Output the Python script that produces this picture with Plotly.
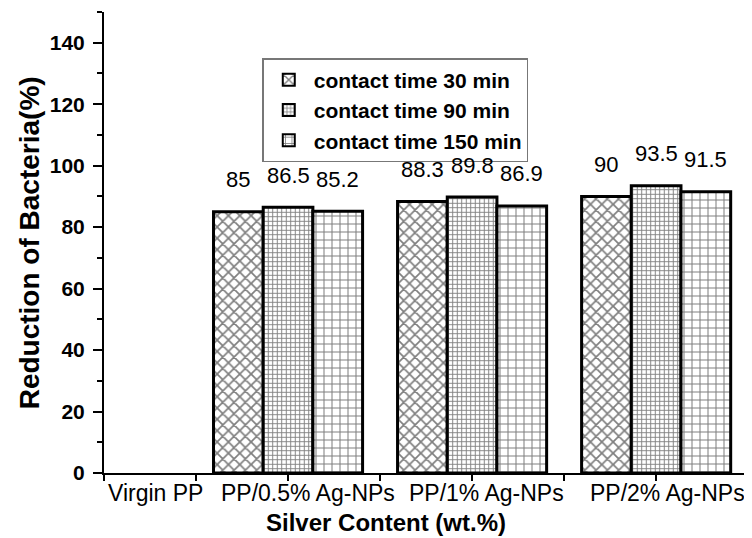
import plotly.graph_objects as go

categories = ["Virgin PP", "PP/0.5% Ag-NPs", "PP/1% Ag-NPs", "PP/2% Ag-NPs"]
series_names = ["contact time 30 min", "contact time 90 min", "contact time 150 min"]
t30 = [None, 85, 88.3, 90]
t90 = [None, 86.5, 89.8, 93.5]
t150 = [None, 85.2, 86.9, 91.5]
y_ticks = [0, 20, 40, 60, 80, 100, 120, 140]

series = [t30, t90, t150]
patterns = [
    dict(shape="x", size=8, solidity=0.38, fgcolor="black", bgcolor="white"),
    dict(shape="+", size=4.5, solidity=0.38, fgcolor="black", bgcolor="white"),
    dict(shape="+", size=8, solidity=0.24, fgcolor="black", bgcolor="white"),
]

FONT = "Liberation Sans, Arial, sans-serif"
bargap = 0.19
xpos = [i + 1 for i in range(len(categories))]
label_offset = [0.28, 0.11, 0.08, 0.06]  # label placement relative to category

fig = go.Figure()
for name, vals, pat in zip(series_names, series, patterns):
    fig.add_trace(go.Bar(
        x=xpos, y=vals, name=name,
        marker=dict(color="white", pattern=pat, line=dict(color="black", width=3)),
    ))

bw = (1 - bargap) / 3
annotations = []
for j, vals in enumerate(series):
    for i, v in enumerate(vals):
        if v is None:
            continue
        annotations.append(dict(
            x=xpos[i] + (j - 1) * bw, y=v, xref="x", yref="y",
            text=f"{v:g}", showarrow=False, yshift=32, yanchor="middle",
            font=dict(family=FONT, size=22, color="black"),
        ))
for i, c in enumerate(categories):
    annotations.append(dict(
        x=xpos[i] + label_offset[i], y=0, xref="x", yref="paper",
        text=c, showarrow=False, yanchor="top", yshift=-5,
        font=dict(family=FONT, size=23, color="black"),
    ))
annotations.append(dict(
    x=0.436, y=-0.108, xref="paper", yref="paper",
    text="Silver Content (wt.%)", showarrow=False, yanchor="middle",
    font=dict(family=FONT, size=24, color="black", weight="bold"),
))
annotations.append(dict(
    x=-0.114, y=0.499, xref="paper", yref="paper",
    text="Reduction of Bacteria(%)", showarrow=False, textangle=-90,
    xanchor="center", yanchor="middle",
    font=dict(family=FONT, size=28, color="black", weight="bold"),
))

# page body adds an 8px margin, so the figure is sized to the visible area
fig.update_layout(
    width=744, height=530,
    margin=dict(l=96, r=2, t=4, b=65, autoexpand=False),
    paper_bgcolor="white", plot_bgcolor="white",
    barmode="group", bargap=bargap, bargroupgap=0,
    showlegend=True,
    legend=dict(
        x=0.245, y=0.9, xanchor="left", yanchor="top",
        bgcolor="white", bordercolor="#777", borderwidth=1.5,
        font=dict(family=FONT, size=21, color="black", weight="bold"),
        tracegroupgap=0, itemsizing="constant", itemwidth=40,
    ),
    annotations=annotations,
    xaxis=dict(
        range=[1, 4.51], tickmode="array",
        tickvals=[1 + 0.5 * k for k in range(8)], ticktext=[""] * 8,
        ticks="outside", ticklen=6, tickwidth=1.5, tickcolor="black",
        showline=True, linecolor="black", linewidth=2,
        showgrid=False, zeroline=False, automargin=False,
    ),
    yaxis=dict(
        range=[0, 150], tickmode="array", tickvals=y_ticks,
        ticks="outside", ticklen=9, tickwidth=1.5, tickcolor="black",
        minor=dict(dtick=10, ticks="outside", ticklen=5, tickwidth=1.5, tickcolor="black", showgrid=False),
        showline=True, linecolor="black", linewidth=2,
        showgrid=False, zeroline=False, automargin=False,
        ticklabelstandoff=4,
        tickfont=dict(family=FONT, size=21, color="black", weight="bold"),
    ),
)

fig.write_html("out.html")
